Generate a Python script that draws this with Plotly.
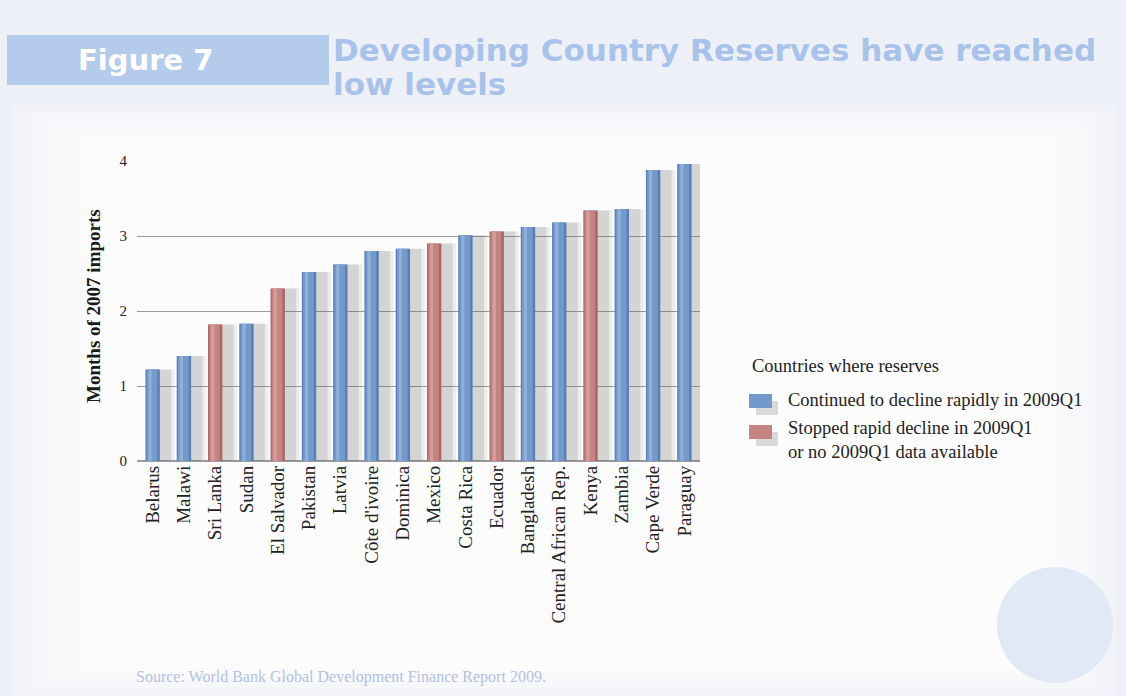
import plotly.graph_objects as go

# Months of 2007 imports covered by reserves
countries = ["Belarus", "Malawi", "Sri Lanka", "Sudan", "El Salvador", "Pakistan",
             "Latvia", "Côte d'ivoire", "Dominica", "Mexico", "Costa Rica", "Ecuador",
             "Bangladesh", "Central African Rep.", "Kenya", "Zambia", "Cape Verde", "Paraguay"]
months = [1.22, 1.40, 1.82, 1.83, 2.30, 2.52, 2.62, 2.80, 2.83, 2.90, 3.01, 3.06,
          3.12, 3.18, 3.34, 3.36, 3.88, 3.96]
# 1 = continued to decline rapidly, 0 = stopped decline / no data
still_declining = [1, 1, 0, 1, 0, 1, 1, 1, 1, 0, 1, 0, 1, 1, 0, 1, 1, 1]
y_ticks = [0, 1, 2, 3, 4]

W, H = 1126, 696
L, R, T, B = 137, 700, 161, 461

BLUE, BLUE_DARK, BLUE_LIGHT = "#7499cb", "#5b7fb4", "#8fb0da"
RED, RED_DARK, RED_LIGHT = "#c58383", "#a96868", "#d69d9d"
SERIF = "Liberation Serif, DejaVu Serif, serif"
HEAVY = "DejaVu Sans"


def px(x):
    return (x - L) / (R - L)


def py(y):
    return (B - y) / (B - T)


def note(text, x, y, size, color, family=SERIF, **kw):
    return dict(text=text, x=px(x), y=py(y), xref="paper", yref="paper",
                xanchor=kw.pop("xanchor", "left"), yanchor=kw.pop("yanchor", "middle"),
                font=dict(family=family, size=size, color=color), showarrow=False, **kw)


def box(x0, y0, x1, y1, color, **kw):
    return dict(type=kw.pop("type", "rect"), xref="paper", yref="paper",
                x0=px(x0), x1=px(x1), y0=py(y1), y1=py(y0),
                fillcolor=color, line_width=0, **kw)


base_cols = [BLUE_DARK if d else RED_DARK for d in still_declining]
mid_cols = [BLUE if d else RED for d in still_declining]
hi_cols = [BLUE_LIGHT if d else RED_LIGHT for d in still_declining]

fig = go.Figure()
# soft drop shadow to the right of each column
fig.add_bar(x=countries, y=months, width=0.72, offset=-0.02,
            marker=dict(color="rgba(95,95,95,0.10)", line_width=0), hoverinfo="skip")
fig.add_bar(x=countries, y=months, width=0.52, offset=0.07,
            marker=dict(color="rgba(95,95,95,0.17)", line_width=0), hoverinfo="skip")
# cylinder body: dark edge, mid body, light highlight
fig.add_bar(x=countries, y=months, width=0.46, offset=-0.23,
            marker=dict(color=base_cols, line_width=0))
fig.add_bar(x=countries, y=months, width=0.34, offset=-0.19,
            marker=dict(color=mid_cols, line_width=0), hoverinfo="skip")
fig.add_bar(x=countries, y=months, width=0.10, offset=-0.13,
            marker=dict(color=hi_cols, line_width=0), hoverinfo="skip")

# background wash: brighter towards the middle of the page
wash = [box(10 + 12 * i, 105 + 6 * i, 1116 - 10 * i, 696 - 4 * i,
            "rgba(255,255,255,0.22)", layer="below") for i in range(9)]

shapes = wash + [
    box(997, 567, 1113, 683, "#e2e9f6", type="circle", layer="below"),
    # title box
    box(7, 35, 329, 85, "#b5cbeb", layer="below"),
    # legend swatches
    box(756, 401, 778, 415, "rgba(110,110,110,0.25)"),
    box(749, 394, 772, 408, BLUE),
    box(756, 432, 778, 446, "rgba(110,110,110,0.25)"),
    box(749, 425, 772, 439, RED),
]

annotations = [
    note("<b>Figure 7</b>", 76, 60, 29, "white", family=HEAVY),
    note("<b>Developing Country Reserves have reached</b>", 331, 50, 31, "#a9c2ea",
         family=HEAVY),
    note("<b>low levels</b>", 331, 84, 31, "#a9c2ea", family=HEAVY),
    note("<b>Months of 2007 imports</b>", 93, 306, 19, "#1a1a1a", textangle=-90,
         xanchor="center"),
    note("Countries where reserves", 750, 366, 18.5, "#222"),
    note("Continued to decline rapidly in 2009Q1", 786, 400, 18.5, "#222"),
    note("Stopped rapid decline in 2009Q1<br>or no 2009Q1 data available", 786, 440, 18.5,
         "#222", align="left"),
    note("Source: World Bank Global Development Finance Report 2009.", 134, 677, 16, "#b3c2e0"),
]

fig.update_layout(
    width=W, height=H,
    margin=dict(l=L, r=W - R, t=T, b=H - B, pad=0),
    paper_bgcolor="#edf0f6", plot_bgcolor="rgba(0,0,0,0)",
    barmode="overlay", showlegend=False,
    shapes=shapes, annotations=annotations,
    xaxis=dict(type="category", tickangle=-90, showgrid=False, ticks="",
               tickfont=dict(family=SERIF, size=19, color="#222"),
               showline=False, range=[-0.5, len(countries) - 0.5]),
    yaxis=dict(range=[0, 4], tickvals=y_ticks, showgrid=True, gridcolor="#9a9a9a",
               gridwidth=1, zeroline=True, zerolinecolor="#9a9a9a", ticks="",
               tickfont=dict(family=SERIF, size=15, color="#222"), ticklabelstandoff=9),
)

fig.write_html("out.html")
